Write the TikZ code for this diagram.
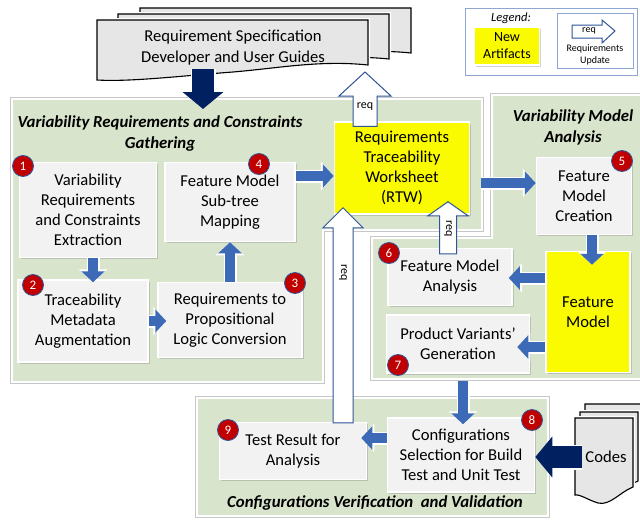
\documentclass[tikz,border=0pt]{standalone}
\usepackage{fontspec}
\setmainfont{Carlito}
\usetikzlibrary{arrows.meta,shadows,calc,positioning}

\definecolor{panelgreen}{RGB}{216,228,204}
\definecolor{boxgray}{RGB}{242,242,242}
\definecolor{docgray}{RGB}{230,230,230}
\definecolor{arrowblue}{RGB}{61,106,182}
\definecolor{navy}{RGB}{0,32,96}
\definecolor{badgered}{RGB}{192,0,0}
\definecolor{badgerim}{RGB}{47,85,151}
\definecolor{reqrim}{RGB}{47,85,151}
\definecolor{legendrim}{RGB}{143,165,210}
\definecolor{artyellow}{RGB}{250,250,0}

% white block arrow pointing up, from #1 to #2 (shaft half, head half, head length)
\newcommand\requp[5]{%
  \draw[reqarrow] let \p1=(#1), \p2=(#2) in
    (\x1-#3,\y1) -- (\x1-#3,\y2-#5) -- (\x1-#4,\y2-#5) -- (\x1,\y2)
    -- (\x1+#4,\y2-#5) -- (\x1+#3,\y2-#5) -- (\x1+#3,\y1) -- cycle;}

\begin{document}
\begin{tikzpicture}[
    x=1pt, y=-1pt,
    panel/.style={fill=panelgreen, draw=white, line width=2.5pt, preaction={draw=black!22, line width=4.5pt}},
    procbox/.style={rectangle, fill=boxgray, draw=white, line width=1.5pt, align=center,
        font=\fontsize{16.6}{20}\selectfont, inner sep=2pt,
        drop shadow={shadow xshift=1.5pt, shadow yshift=-1.5pt, opacity=0.35}},
    artifact/.style={procbox, fill=artyellow},
    badge/.style={circle, fill=badgered, draw=badgerim, line width=0.8pt, text=white,
        minimum size=21pt, inner sep=0pt, font=\fontsize{13}{13}\selectfont},
    flow/.style={draw=arrowblue, line width=10pt, -{Triangle[width=23pt,length=11pt]},
        preaction={draw=white, line width=13pt, -{Triangle[width=28pt,length=13pt]}}},
    feed/.style={draw=navy, line width=22pt, -{Triangle[width=40pt,length=17pt]},
        preaction={draw=white, line width=25pt, -{Triangle[width=46pt,length=19pt]}}},
    reqarrow/.style={fill=white, draw=reqrim, line width=1pt},
    reqlabel/.style={font=\fontsize{12}{12}\selectfont, inner sep=0pt},
    title/.style={font=\bfseries\itshape\fontsize{16.8}{21}\selectfont, align=center},
    doc/.style={fill=docgray, draw=black, line width=1.1pt, preaction={draw=white, line width=4pt}},
    doctext/.style={font=\fontsize{16.6}{21}\selectfont, align=center},
    legendframe/.style={rectangle, draw=legendrim, line width=1pt, fill=white}
]
    \useasboundingbox (0,0) rectangle (640,525);
    \clip (0,0) rectangle (640,525);
    \fill[white] (0,0) rectangle (640,525);

    % Source documents
    \foreach \dx/\dy in {43/-12, 21/-6, 0/0}
        \draw[doc, shift={(\dx,\dy)}] (97,20) -- (368,20) -- (368,65)
            .. controls (320,60) and (280,68) .. (233,72)
            .. controls (180,76) and (130,82) .. (97,80) -- cycle;
    \node[doctext] (specs) at (233,48) {Requirement Specification\\Developer and User Guides};

    % Code documents
    \foreach \dx/\dy in {10/-14, 5/-6, 0/0}
        \draw[doc, shift={(\dx,\dy)}] (575,418) -- (633,418) -- (633,487)
            .. controls (620,492) and (610,506) .. (598,503)
            .. controls (588,500) and (580,494) .. (575,495) -- cycle;
    \node[doctext] (codes) at (606,457) {Codes};

    % Panels
    \draw[panel] (12,99) -- (482,99) -- (482,230) -- (323,230) -- (323,382) -- (12,382) -- cycle;
    \draw[panel] (492,95) -- (660,95) -- (660,379) -- (372,379) -- (372,238) -- (492,238) -- cycle;
    \draw[panel] (197,398) -- (548,398) -- (548,516) -- (197,516) -- cycle;

    \node[title] (gathering) at (160,134) {Variability Requirements and Constraints\\Gathering};
    \node[title] (modelling) at (573,127) {Variability Model\\Analysis};
    \node[title] (validation) at (375,503) {Configurations Verification~ and Validation};

    % Steps
    \node[procbox, minimum width=137pt, minimum height=95pt] (extract) at (88,210) {Variability\\Requirements\\and Constraints\\Extraction};
    \node[procbox, minimum width=130pt, minimum height=82pt] (augment) at (83,321) {Traceability\\Metadata\\Augmentation};
    \node[procbox, minimum width=144pt, minimum height=75pt] (convert) at (230,320) {Requirements to\\Propositional\\Logic Conversion};
    \node[procbox, minimum width=130pt, minimum height=79pt] (mapping) at (230,202) {Feature Model\\Sub-tree\\Mapping};
    \node[artifact, minimum width=135pt, minimum height=92pt] (rtw) at (402,168) {Requirements\\Traceability\\Worksheet\\(RTW)};
    \node[procbox, minimum width=95pt, minimum height=77pt] (creation) at (584,196) {Feature\\Model\\Creation};
    \node[artifact, minimum width=84pt, minimum height=121pt] (fmodel) at (588,312) {Feature\\Model};
    \node[procbox, minimum width=124pt, minimum height=57pt] (analysis) at (450,277) {Feature Model\\Analysis};
    \node[procbox, minimum width=143pt, minimum height=58pt] (variants) at (458,344) {Product Variants'\\Generation};
    \node[procbox, minimum width=147pt, minimum height=74pt] (selection) at (461,455) {Configurations\\Selection for Build\\Test and Unit Test};
    \node[procbox, minimum width=147pt, minimum height=57pt] (results) at (293,451) {Test Result for\\Analysis};

    % Flow arrows
    \draw[flow, shorten >=-3pt] ([xshift=5pt]extract.south) -- ([xshift=5pt]extract.south |- augment.north);
    \draw[flow, shorten >=-9pt] (augment.east) -- (augment.east -| convert.west);
    \draw[flow] (convert.north) -- (mapping.south);
    \draw[flow] ([yshift=26pt]mapping.east) -- ([yshift=26pt]mapping.east -| rtw.west);
    \draw[flow, shorten <=11pt] ([yshift=-15pt]rtw.east) -- ([yshift=-15pt]rtw.east -| creation.west);
    \draw[flow, shorten >=-14pt] ([xshift=8pt]creation.south) -- ([xshift=8pt]creation.south |- fmodel.north);
    \draw[flow, shorten >=-4pt] ([yshift=34pt]fmodel.west) -- ([yshift=34pt]fmodel.west -| analysis.east);
    \draw[flow, shorten >=-13pt] ([yshift=-35pt]fmodel.west) -- ([yshift=-35pt]fmodel.west -| variants.east);
    \draw[flow, shorten <=7pt, shorten >=-7pt] ([xshift=5pt]variants.south) -- ([xshift=5pt]variants.south |- selection.north);
    \draw[flow, shorten >=-6pt] ([yshift=17pt]selection.west) -- ([yshift=17pt]selection.west -| results.east);

    % Inputs
    \coordinate (gatherin) at (203,109);
    \draw[feed] (specs.south -| gatherin) -- (gatherin);
    \draw[feed] (codes.west) -- (codes.west -| selection.east);

    % Requirement updates
    \coordinate (specsbase) at (365,72);
    \requp{$(rtw.north)+(-37,5)$}{specsbase}{12pt}{26pt}{24pt}
    \requp{$(analysis.north)+(-2,6)$}{$(rtw.south)+(46,-13)$}{8.5pt}{20pt}{14pt}
    \requp{$(results.north)+(50,1)$}{$(rtw.south)+(-59,-7)$}{10pt}{20pt}{20pt}
    \node[reqlabel] (req1) at (365,107) {req};
    \node[reqlabel, rotate=-90] (req2) at (448,229) {req};
    \node[reqlabel, rotate=-90] (req3) at (343,273) {req};

    % Step numbers
    \node[badge] (b1) at (23,166) {1};
    \node[badge] (b2) at (33,285) {2};
    \node[badge] (b3) at (295,283) {3};
    \node[badge] (b4) at (259,164) {4};
    \node[badge] (b5) at (622,161) {5};
    \node[badge] (b6) at (389,253) {6};
    \node[badge] (b7) at (398,365) {7};
    \node[badge] (b8) at (532,420) {8};
    \node[badge] (b9) at (228,430) {9};

    % Legend
    \node[legendframe, minimum width=172pt, minimum height=67pt] (legend) at (551,41.5) {};
    \node[font=\itshape\fontsize{12.5}{14}\selectfont] (legendhead) at (511,18) {Legend:};
    \node[artifact, minimum width=65pt, minimum height=38pt, font=\fontsize{14}{17}\selectfont] (newart) at (507,46) {New\\Artifacts};
    \node[legendframe, minimum width=76pt, minimum height=55pt] (reqkey) at (595,40.5) {};
    \draw[reqarrow] (572,25) -- (602,25) -- (602,20) -- (615,31) -- (602,43) -- (602,38) -- (572,38) -- cycle;
    \node[font=\fontsize{10}{10}\selectfont] (reqkeyreq) at (589,31) {req};
    \node[font=\fontsize{10}{12.5}\selectfont, align=center] (reqkeytext) at (595,55) {Requirements\\Update};
\end{tikzpicture}
\end{document}
